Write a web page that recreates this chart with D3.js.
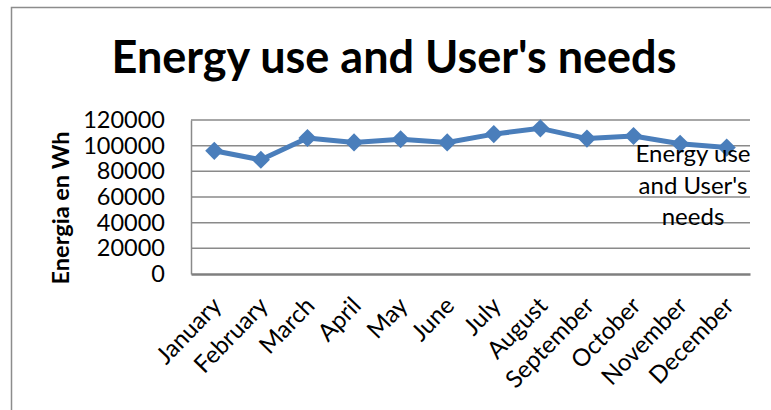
<!DOCTYPE html>
<html>
<head>
<meta charset="utf-8">
<script src="https://cdn.jsdelivr.net/npm/d3@7"></script>
<style>
  body { margin: 0; background: #fff; }
  svg { display: block; font-family: Lato, "Open Sans", sans-serif; }
</style>
</head>
<body>
<div id="main"></div>
<script>
var months = ["January", "February", "March", "April", "May", "June",
              "July", "August", "September", "October", "November", "December"];
var energy = [96000, 89000, 106000, 102500, 105000, 102500,
              109000, 113500, 105500, 107500, 101500, 98500];
var yTicks = [0, 20000, 40000, 60000, 80000, 100000, 120000];
var legendLines = ["Energy use", "and User's", "needs"];

var width = 771, height = 410;
var plot = {left: 191, right: 750, top: 120, bottom: 274};
var blue = "#4a7ebb";

var svg = d3.select("#main")
    .append("svg")
    .attr("width", width)
    .attr("height", height);

// outer frame of the chart
svg.append("rect")
    .attr("x", 11.5)
    .attr("y", 7.5)
    .attr("width", width + 20)
    .attr("height", height + 20)
    .attr("fill", "none")
    .attr("stroke", "#8c8c8c")
    .attr("stroke-width", 1.5);

var x = d3.scalePoint()
    .domain(months)
    .range([plot.left, plot.right])
    .padding(0.5);

var y = d3.scaleLinear()
    .domain([0, 120000])
    .range([plot.bottom, plot.top]);

// gridlines
svg.append("g")
    .selectAll("line")
    .data(yTicks.filter(function(d) { return d > 0; }))
    .enter()
    .append("line")
    .attr("x1", plot.left)
    .attr("x2", plot.right)
    .attr("y1", function(d) { return y(d); })
    .attr("y2", function(d) { return y(d); })
    .attr("stroke", "#8a8a8a")
    .attr("stroke-width", 1.5);

// y axis
var yAxis = svg.append("g")
    .attr("transform", "translate(" + plot.left + ",0)")
    .call(d3.axisLeft(y).tickValues(yTicks).tickSize(0).tickPadding(26)
          .tickFormat(d3.format("d")));
yAxis.select(".domain").attr("stroke", "#8a8a8a").attr("stroke-width", 1.5);
yAxis.selectAll("text")
    .attr("font-size", "23.5px")
    .attr("fill", "#000")
    .attr("font-family", "Lato, sans-serif");

// x axis
var xAxis = svg.append("g")
    .attr("transform", "translate(0," + plot.bottom + ")")
    .call(d3.axisBottom(x).tickSize(0).tickSizeOuter(0));
xAxis.select(".domain").attr("stroke", "#7f7f7f").attr("stroke-width", 2.5);
xAxis.selectAll("text")
    .attr("font-size", "24px")
    .attr("fill", "#000")
    .attr("font-family", "Lato, sans-serif")
    .attr("text-anchor", "end")
    .attr("dy", null)
    .attr("y", 0)
    .attr("transform", "translate(8,33) rotate(-46)");

// line and markers
var line = d3.line()
    .x(function(d, i) { return x(months[i]); })
    .y(function(d) { return y(d); });

svg.append("path")
    .datum(energy)
    .attr("d", line)
    .attr("fill", "none")
    .attr("stroke", blue)
    .attr("stroke-width", 5)
    .attr("stroke-linejoin", "round");

var marker = d3.symbol(d3.symbolSquare, 165);
svg.append("g")
    .selectAll("path")
    .data(energy)
    .enter()
    .append("path")
    .attr("d", marker)
    .attr("fill", blue)
    .attr("transform", function(d, i) {
        return "translate(" + x(months[i]) + "," + y(d) + ") rotate(45)";
    });

// title
svg.append("text")
    .attr("x", 394)
    .attr("y", 73)
    .attr("text-anchor", "middle")
    .attr("font-size", "45px")
    .attr("font-weight", "bold")
    .attr("fill", "#000")
    .text("Energy use and User's needs");

// y axis title
svg.append("text")
    .attr("transform", "translate(69,208) rotate(-90)")
    .attr("text-anchor", "middle")
    .attr("font-size", "23.5px")
    .attr("font-weight", "bold")
    .attr("fill", "#000")
    .text("Energia en Wh");

// legend (text only)
svg.append("g")
    .selectAll("text")
    .data(legendLines)
    .enter()
    .append("text")
    .attr("x", 693)
    .attr("y", function(d, i) { return 162 + i * 31.5; })
    .attr("text-anchor", "middle")
    .attr("font-size", "24px")
    .attr("fill", "#000")
    .text(function(d) { return d; });
</script>
</body>
</html>
